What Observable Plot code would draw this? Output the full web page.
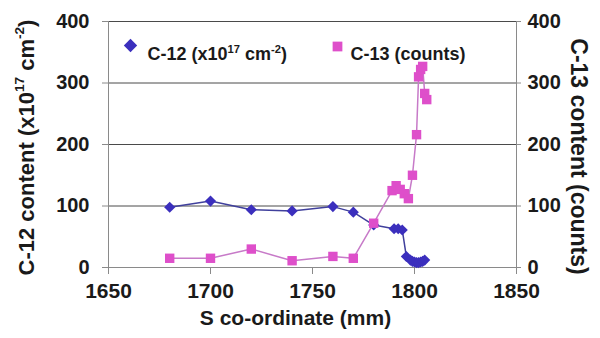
<!DOCTYPE html>
<html>
<head>
<meta charset="utf-8">
<script src="https://cdn.jsdelivr.net/npm/d3@7"></script>
<script src="https://cdn.jsdelivr.net/npm/@observablehq/plot@0.6"></script>
<style>
  html, body { margin: 0; padding: 0; background: #fff; }
  svg { display: block; }
</style>
</head>
<body>
<script>
// ---- data ----
const c12S = [1680, 1700, 1720, 1740, 1760, 1770, 1780, 1790, 1792, 1794, 1796, 1798, 1799, 1800, 1801, 1802, 1803, 1804, 1805];
const c12V = [98, 108, 94, 92, 99, 90, 69, 63, 63, 61, 18, 12, 10, 9, 8, 8, 9, 10, 12];

const c13S = [1680, 1700, 1720, 1740, 1760, 1770, 1780, 1789, 1791, 1793, 1795, 1797, 1799, 1801, 1802, 1803, 1804, 1805, 1806];
const c13V = [15, 15, 30, 11, 18, 15, 72, 125, 133, 127, 120, 112, 150, 216, 310, 322, 327, 283, 273];

const xTicks = [1650, 1700, 1750, 1800, 1850];
const yTicks = [0, 100, 200, 300, 400];

const seriesNames = ["C-12 (x10^{17} cm^{-2})", "C-13 (counts)"];
const xTitle = "S co-ordinate (mm)";
const yLeftTitle = "C-12 content (x10^{17} cm^{-2})";
const yRightTitle = "C-13 content (counts)";

const c12Rows = c12S.map((s, i) => ({s, v: c12V[i]}));
const c13Rows = c13S.map((s, i) => ({s, v: c13V[i]}));

const col12 = "#3b2fbd", line12 = "#40409c";
const col13 = "#de4fca", line13 = "#c77ac8";
const FONT = "'Liberation Sans', Arial, sans-serif";

const chart = Plot.plot({
  width: 600,
  height: 338,
  marginLeft: 108,
  marginRight: 84,
  marginTop: 21,
  marginBottom: 71,
  style: {fontFamily: FONT, fontWeight: "bold", fontSize: "20px", color: "#1a1a1a", background: "#fff", overflow: "visible"},
  x: {domain: [1650, 1850]},
  y: {domain: [0, 400]},
  marks: [
    Plot.gridY(yTicks, {stroke: "#4a4a4a", strokeOpacity: 1, strokeWidth: 1}),
    Plot.ruleX([1650, 1850], {stroke: "#8a8a8a", strokeWidth: 1}),
    Plot.ruleY([0], {stroke: "#8a8a8a", strokeWidth: 1}),
    Plot.axisY(yTicks, {anchor: "left", tickSize: 6, tickPadding: 13, label: null, fontSize: 20, stroke: "#8a8a8a"}),
    Plot.axisY(yTicks, {anchor: "right", tickSize: 4, tickPadding: 7, label: null, fontSize: 20, stroke: "#8a8a8a"}),
    Plot.axisX(xTicks, {anchor: "bottom", tickSize: 7, tickPadding: 9, label: null, fontSize: 21, tickFormat: d => String(d), stroke: "#8a8a8a"}),
    Plot.line(c12Rows, {x: "s", y: "v", stroke: line12, strokeWidth: 1.5}),
    Plot.dot(c12Rows, {x: "s", y: "v", symbol: "diamond2", r: 5, fill: col12, stroke: "none"}),
    Plot.line(c13Rows, {x: "s", y: "v", stroke: line13, strokeWidth: 1.5}),
    Plot.dot(c13Rows, {x: "s", y: "v", symbol: "square", r: 5.3, fill: col13, stroke: "none"}),
    // legend
    Plot.dot([seriesNames[0]], {frameAnchor: "top-left", dx: 22, dy: 24, symbol: "diamond2", r: 6, fill: col12, stroke: "none"}),
    Plot.text([seriesNames[0]], {frameAnchor: "top-left", dx: 39, dy: 26, text: d => d, textAnchor: "start", fontSize: 18, fontWeight: "bold", fill: "#1a1a1a"}),
    Plot.dot([seriesNames[1]], {frameAnchor: "top-left", dx: 229, dy: 25, symbol: "square", r: 5.5, fill: col13, stroke: "none"}),
    Plot.text([seriesNames[1]], {frameAnchor: "top-left", dx: 242, dy: 26, text: d => d, textAnchor: "start", fontSize: 18, fontWeight: "bold", fill: "#1a1a1a"}),
    // axis titles
    Plot.text([xTitle], {frameAnchor: "bottom", dx: -17, dy: 57, text: d => d, textAnchor: "middle", fontSize: 21, fontWeight: "bold", fill: "#1a1a1a"}),
    Plot.text([yLeftTitle], {frameAnchor: "left", dx: -82, dy: 3, rotate: -90, text: d => d, textAnchor: "middle", fontSize: 22, fontWeight: "bold", fill: "#1a1a1a"}),
    Plot.text([yRightTitle], {frameAnchor: "right", dx: 62, dy: 12, rotate: 90, text: d => d, textAnchor: "middle", fontSize: 23, fontWeight: "bold", fill: "#1a1a1a"})
  ]
});

document.body.appendChild(chart);

// turn ^{...} markup into real superscript tspans
function richify(svg) {
  svg.querySelectorAll("text").forEach(t => {
    const s = t.textContent;
    if (!s.includes("^{")) return;
    const fs = parseFloat(getComputedStyle(t).fontSize) || 18;
    while (t.firstChild) t.removeChild(t.firstChild);
    const re = /\^\{([^}]*)\}/g;
    let last = 0, m, pendingDown = false;
    const NS = "http://www.w3.org/2000/svg";
    const add = (txt, sup) => {
      const ts = document.createElementNS(NS, "tspan");
      ts.textContent = txt;
      if (sup) {
        ts.setAttribute("font-size", (fs * 0.62) + "px");
        ts.setAttribute("dy", (-fs * 0.42) + "");
        pendingDown = true;
      } else if (pendingDown) {
        ts.setAttribute("dy", (fs * 0.42) + "");
        pendingDown = false;
      }
      t.appendChild(ts);
    };
    while ((m = re.exec(s))) {
      if (m.index > last) add(s.slice(last, m.index), false);
      add(m[1], true);
      last = m.index + m[0].length;
    }
    if (last < s.length) add(s.slice(last), false);
  });
}
richify(chart);
</script>
</body>
</html>
